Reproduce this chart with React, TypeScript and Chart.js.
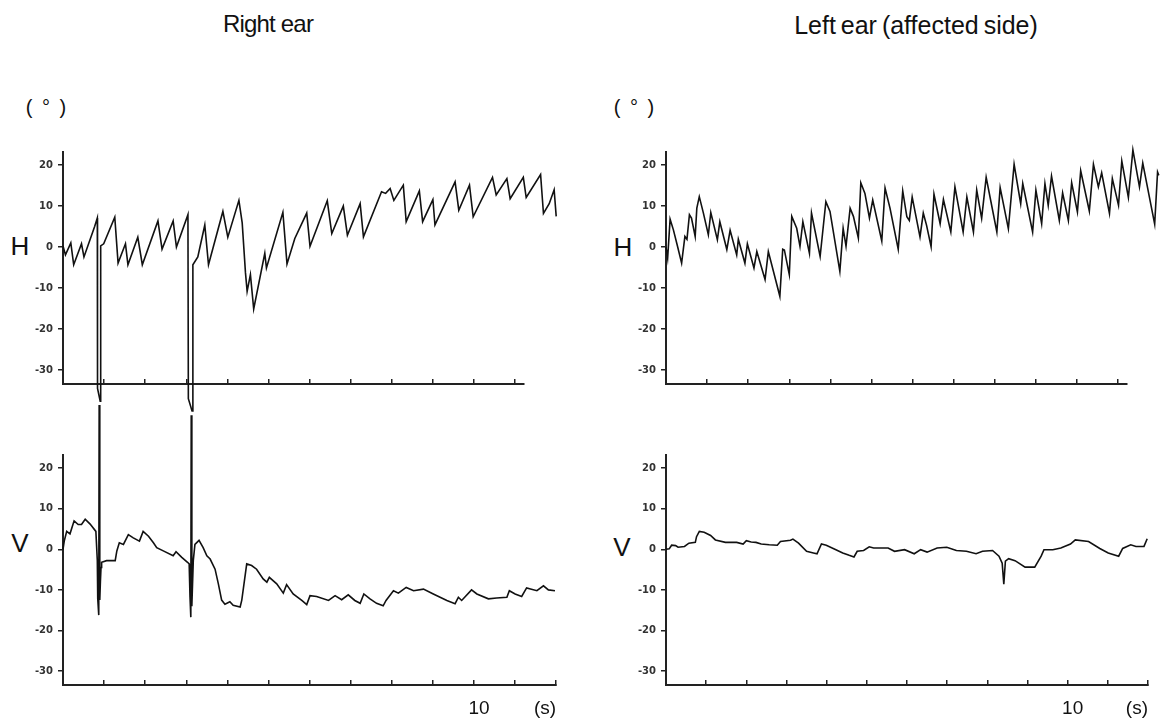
import React, { useEffect, useRef } from "react";
import { Chart, registerables } from "chart.js";

Chart.register(...registerables);

// ---------- data ----------
const Y_TICKS = [-30, -20, -10, 0, 10, 20];
const Y_MIN = -33.4;
const Y_MAX = 23.2;
const H_TIME_TICKS = [1, 2, 3, 4, 5, 6, 7, 8, 9, 10, 11];
const V_TIME_TICKS = [1, 2, 3, 4, 5, 6, 7, 8, 9, 10, 11, 12];
const H_AXIS_END = 11.2;
const V_AXIS_END = 12;
const LABELED_SECOND = 10;
const TIME_UNIT = "(s)";

// Right ear, horizontal (°)
const rightEarH_time = [0, 0.06, 0.19, 0.26, 0.45, 0.51, 0.77, 0.835, 0.84, 0.905, 0.917, 0.99, 1.26, 1.34, 1.52, 1.58, 1.82, 1.93, 2.31, 2.41, 2.68, 2.76, 3.04, 3.05, 3.14, 3.16, 3.28, 3.45, 3.54, 3.89, 4.01, 4.28, 4.36, 4.44, 4.48, 4.56, 4.64, 4.91, 4.95, 5.35, 5.45, 5.64, 5.93, 6.01, 6.43, 6.54, 6.82, 6.92, 7.23, 7.31, 7.75, 7.85, 7.96, 8.05, 8.28, 8.35, 8.67, 8.75, 9.0, 9.05, 9.54, 9.63, 9.89, 9.98, 10.45, 10.54, 10.8, 10.88, 11.2, 11.27, 11.62, 11.69, 11.83, 11.95, 12.0];
const rightEarH_deg = [0.3, -1.9, 1.0, -4.3, 0.8, -2.4, 5.0, 7.1, -34.5, -37.6, 0.3, 0.8, 7.3, -3.9, 0.8, -4.3, 2.4, -4.3, 6.4, -0.5, 6.4, 0, 7.9, -37, -40, -4.3, -2.4, 5.4, -4.3, 8.7, 2.4, 11.4, 5.9, -6.3, -10.8, -6.7, -15.1, -1.5, -5.1, 8.5, -4.1, 2.1, 8.3, 0.2, 11.3, 3.3, 10.0, 2.9, 10.6, 2.5, 13.5, 13.1, 14.3, 11.4, 15.1, 6.2, 13.7, 6.2, 11.6, 5.4, 15.9, 9.0, 15.1, 7.4, 17.0, 12.7, 16.7, 11.8, 17.0, 12.1, 17.7, 8.2, 10.6, 14.0, 7.5];

// Right ear, vertical (°)
const rightEarV_time = [0, 0.03, 0.09, 0.17, 0.27, 0.37, 0.45, 0.54, 0.66, 0.8, 0.835, 0.845, 0.87, 0.88, 0.895, 0.91, 0.925, 0.94, 1.06, 1.27, 1.31, 1.37, 1.47, 1.59, 1.71, 1.86, 1.95, 2.08, 2.2, 2.28, 2.44, 2.68, 2.75, 2.89, 3.03, 3.07, 3.09, 3.11, 3.12, 3.135, 3.17, 3.21, 3.31, 3.41, 3.5, 3.58, 3.7, 3.78, 3.86, 3.94, 4.06, 4.14, 4.31, 4.35, 4.47, 4.59, 4.71, 4.87, 4.96, 5.02, 5.2, 5.36, 5.44, 5.6, 5.81, 5.93, 6.01, 6.17, 6.46, 6.62, 6.78, 6.94, 7.1, 7.23, 7.32, 7.47, 7.63, 7.79, 7.86, 8.04, 8.16, 8.35, 8.53, 8.77, 9.01, 9.34, 9.54, 9.62, 9.7, 9.94, 10.07, 10.35, 10.55, 10.8, 10.86, 11.0, 11.16, 11.28, 11.53, 11.69, 11.81, 11.97];
const rightEarV_deg = [0, 2.0, 4.4, 3.8, 7.0, 6.1, 6.1, 7.4, 6.2, 4.4, -2.8, -12.1, -16.2, 35.5, -12.5, -8.0, -4.5, -3.2, -2.8, -2.8, -0.4, 1.6, 1.2, 3.6, 2.8, 2.0, 4.4, 3.2, 1.6, 0.4, -0.4, -1.6, -0.6, -2.0, -3.2, -3.6, -11.7, -16.7, 33.0, -14.0, -2.8, 1.2, 2.2, 0.4, -1.6, -2.4, -4.9, -8.5, -12.5, -13.5, -12.9, -13.8, -14.2, -12.5, -3.6, -4.0, -4.9, -7.3, -8.1, -6.9, -8.5, -10.8, -8.7, -11.0, -12.6, -13.6, -11.4, -11.6, -12.6, -11.4, -12.4, -11.2, -12.6, -13.3, -11.0, -12.2, -13.3, -13.9, -12.6, -10.2, -10.8, -9.4, -10.2, -9.8, -11.0, -12.6, -13.4, -11.8, -12.6, -10.0, -11.0, -12.2, -12.0, -11.8, -10.2, -11.0, -11.6, -9.5, -10.2, -9.0, -10.0, -10.2];

// Left ear (affected side), horizontal (°)
const leftEarH_time = [0, 0.04, 0.1, 0.18, 0.28, 0.38, 0.46, 0.51, 0.57, 0.62, 0.71, 0.75, 0.81, 0.91, 1.03, 1.09, 1.25, 1.31, 1.48, 1.56, 1.72, 1.76, 1.92, 1.98, 2.14, 2.21, 2.41, 2.49, 2.77, 2.84, 2.88, 3.0, 3.06, 3.18, 3.26, 3.33, 3.49, 3.54, 3.75, 3.89, 3.99, 4.23, 4.31, 4.38, 4.48, 4.56, 4.68, 4.74, 4.84, 4.95, 5.03, 5.25, 5.33, 5.45, 5.65, 5.76, 5.86, 5.92, 5.99, 6.18, 6.26, 6.34, 6.45, 6.52, 6.67, 6.75, 6.93, 7.03, 7.23, 7.32, 7.48, 7.56, 7.68, 7.79, 8.05, 8.13, 8.33, 8.47, 8.63, 8.68, 8.92, 9.0, 9.14, 9.22, 9.3, 9.38, 9.57, 9.65, 9.79, 9.87, 10.01, 10.09, 10.3, 10.4, 10.52, 10.6, 10.79, 10.86, 11.01, 11.09, 11.25, 11.36, 11.52, 11.6, 11.89, 11.96, 11.99];
const leftEarH_deg = [0, -2.7, 6.8, 4.2, 0.2, -3.9, 2.6, 1.9, 7.9, 7.1, 2.6, 9.5, 12.3, 8.3, 3.0, 8.4, 1.8, 6.2, -0.6, 4.1, -1.9, 1.9, -3.9, 0.8, -5.1, -1.1, -7.9, -1.1, -12.0, -0.5, -0.7, -6.7, 7.5, 4.6, 0.2, 6.2, -1.5, 8.3, -2.3, 11.1, 8.7, -5.9, 4.6, 0.2, 9.5, 7.5, 2.2, 15.7, 13.1, 7.1, 11.5, 1.5, 14.4, 9.5, -0.5, 13.7, 7.4, 6.5, 12.2, 2.5, 8.3, 5.3, 0.1, 12.9, 5.7, 11.6, 3.7, 14.7, 3.7, 12.2, 3.7, 13.9, 7.0, 17.0, 3.7, 14.5, 4.5, 20.2, 10.6, 15.5, 3.7, 13.9, 5.7, 15.5, 10.2, 17.3, 6.5, 13.2, 6.5, 15.7, 8.6, 18.6, 8.8, 20.2, 14.7, 18.1, 8.2, 16.7, 10.2, 21.0, 12.1, 23.7, 14.7, 20.5, 5.6, 18.3, 17.5];

// Left ear (affected side), vertical (°)
const leftEarV_time = [0, 0.08, 0.14, 0.24, 0.3, 0.46, 0.57, 0.73, 0.76, 0.83, 0.95, 1.11, 1.23, 1.48, 1.76, 1.92, 2.0, 2.12, 2.24, 2.37, 2.57, 2.77, 2.85, 3.1, 3.16, 3.3, 3.5, 3.67, 3.76, 3.87, 3.99, 4.23, 4.4, 4.56, 4.68, 4.76, 4.92, 5.06, 5.17, 5.53, 5.69, 5.94, 6.18, 6.34, 6.5, 6.75, 6.99, 7.23, 7.48, 7.72, 7.88, 8.13, 8.29, 8.37, 8.41, 8.45, 8.53, 8.69, 8.94, 9.18, 9.34, 9.41, 9.63, 9.83, 10.07, 10.19, 10.52, 10.8, 11.01, 11.27, 11.37, 11.57, 11.7, 11.9, 11.98];
const leftEarV_deg = [0, 0.1, 1.0, 0.9, 0.5, 0.7, 1.5, 1.7, 3.1, 4.4, 4.2, 3.4, 2.3, 1.7, 1.7, 1.3, 2.1, 1.8, 1.7, 1.3, 1.1, 1.0, 1.9, 2.2, 2.5, 1.5, -0.5, -0.9, -1.1, 1.3, 1.0, -0.1, -0.9, -1.5, -1.9, -0.5, -0.3, 0.6, 0.3, 0.3, -0.5, -0.1, -1.1, -0.1, -0.7, 0.3, 0.5, -0.3, -0.5, -1.1, -0.5, -0.3, -1.7, -3.4, -8.6, -2.9, -2.3, -2.8, -4.4, -4.4, -1.7, -0.1, -0.1, 0.3, 1.3, 2.3, 1.9, 0.2, -0.9, -1.7, 0.2, 1.1, 0.7, 0.7, 2.6];

// ---------- layout ----------
const PX_PER_S = 41.1;
const Y_AXIS_W = 63;
const INK = "#111";
const AXIS = "#222";

type PanelProps = {
  left: number;
  top: number;
  width: number;
  height: number;
  padTop: number;
  xAxisH: number;
  time: number[];
  deg: number[];
  axisEnd: number;
  timeTicks: number[];
  showTimeLabels: boolean;
};

function Panel(p: PanelProps) {
  const ref = useRef<HTMLCanvasElement | null>(null);
  useEffect(() => {
    if (!ref.current) return;
    const padRight = p.width - Y_AXIS_W - p.axisEnd * PX_PER_S;
    const chart = new Chart(ref.current, {
      type: "line",
      data: {
        datasets: [
          {
            data: p.time.map((t, i) => ({ x: t, y: p.deg[i] })),
            borderColor: INK,
            borderWidth: 1.6,
            pointRadius: 0,
            tension: 0,
            fill: false,
            clip: false as any,
          },
        ],
      },
      options: {
        responsive: false,
        animation: false,
        devicePixelRatio: 1,
        events: [],
        layout: { padding: { top: p.padTop, right: padRight, bottom: 0, left: 0 } },
        plugins: { legend: { display: false }, tooltip: { enabled: false } },
        scales: {
          x: {
            type: "linear",
            min: 0,
            bounds: "data",
            afterDataLimits: (s: any) => {
              s.max = p.axisEnd;
            },
            afterBuildTicks: (s: any) => {
              s.ticks = p.timeTicks.map((v) => ({ value: v }));
            },
            afterFit: (s: any) => {
              s.height = p.xAxisH;
            },
            border: { display: true, color: AXIS, width: 2 },
            grid: { drawOnChartArea: false, drawTicks: true, tickLength: -5, color: AXIS, lineWidth: 1.5 },
            ticks: {
              autoSkip: false,
              maxRotation: 0,
              minRotation: 0,
              padding: 19,
              labelOffset: 5,
              color: INK,
              font: { family: "'Liberation Sans', Arial, sans-serif", size: 19, lineHeight: 1 },
              callback: (v: any) => (p.showTimeLabels && Number(v) === LABELED_SECOND ? String(LABELED_SECOND) : ""),
            },
            title: {
              display: p.showTimeLabels,
              text: TIME_UNIT,
              align: "end",
              color: INK,
              padding: { top: 0, bottom: 1 },
              font: { family: "'Liberation Sans', Arial, sans-serif", size: 19, lineHeight: 1 },
            },
          },
          y: {
            type: "linear",
            position: "left",
            min: Y_MIN,
            max: Y_MAX,
            afterBuildTicks: (s: any) => {
              s.ticks = Y_TICKS.map((v) => ({ value: v }));
            },
            afterFit: (s: any) => {
              s.width = Y_AXIS_W;
            },
            border: { display: true, color: AXIS, width: 2 },
            grid: { drawOnChartArea: false, drawTicks: true, tickLength: 5, color: AXIS, lineWidth: 1.5 },
            ticks: {
              padding: 5,
              color: "#333",
              font: { family: "'DejaVu Sans', Verdana, sans-serif", size: 10, weight: "bold" },
            },
          },
        },
      },
    } as any);
    return () => chart.destroy();
  }, []);
  return (
    <canvas
      ref={ref}
      width={p.width}
      height={p.height}
      style={{ position: "absolute", left: p.left, top: p.top, width: p.width, height: p.height }}
    />
  );
}

function Label(props: { x: number; y: number; size: number; text: string; extra?: React.CSSProperties }) {
  return (
    <div
      style={{
        position: "absolute",
        left: props.x,
        top: props.y,
        transform: "translate(-50%, -50%)",
        fontSize: props.size,
        lineHeight: 1,
        whiteSpace: "pre",
        color: INK,
        fontFamily: "'Liberation Sans', Arial, sans-serif",
        ...(props.extra || {}),
      }}
    >
      {props.text}
    </div>
  );
}

export default function App() {
  const H_TOP = 130;
  const H_HEIGHT = 284;
  const V_TOP = 390;
  const V_HEIGHT = 329;
  return (
    <div style={{ position: "absolute", left: 0, top: 0, width: 1167, height: 719, background: "#fff", overflow: "hidden" }}>
      <Label x={268} y={24} size={24} text="Right ear" extra={{ letterSpacing: "-0.8px" }} />
      <Label x={916} y={25} size={25} text="Left ear (affected side)" extra={{ wordSpacing: "-2px" }} />
      <Label x={46} y={107} size={20} text="( ° )" extra={{ wordSpacing: "4px" }} />
      <Label x={634} y={107} size={20} text="( ° )" extra={{ wordSpacing: "4px" }} />
      <Label x={20} y={246} size={26} text="H" />
      <Label x={623} y={247} size={26} text="H" />
      <Label x={20} y={543} size={26} text="V" />
      <Label x={622} y={547} size={26} text="V" />

      <Panel left={0} top={H_TOP} width={580} height={H_HEIGHT} padTop={22} xAxisH={30}
        time={rightEarH_time} deg={rightEarH_deg} axisEnd={H_AXIS_END} timeTicks={H_TIME_TICKS} showTimeLabels={false} />
      <Panel left={0} top={V_TOP} width={580} height={V_HEIGHT} padTop={65} xAxisH={34}
        time={rightEarV_time} deg={rightEarV_deg} axisEnd={V_AXIS_END} timeTicks={V_TIME_TICKS} showTimeLabels={true} />
      <Panel left={603} top={H_TOP} width={564} height={H_HEIGHT} padTop={22} xAxisH={30}
        time={leftEarH_time} deg={leftEarH_deg} axisEnd={H_AXIS_END} timeTicks={H_TIME_TICKS} showTimeLabels={false} />
      <Panel left={603} top={V_TOP} width={564} height={V_HEIGHT} padTop={65} xAxisH={34}
        time={leftEarV_time} deg={leftEarV_deg} axisEnd={V_AXIS_END} timeTicks={V_TIME_TICKS} showTimeLabels={true} />
    </div>
  );
}
